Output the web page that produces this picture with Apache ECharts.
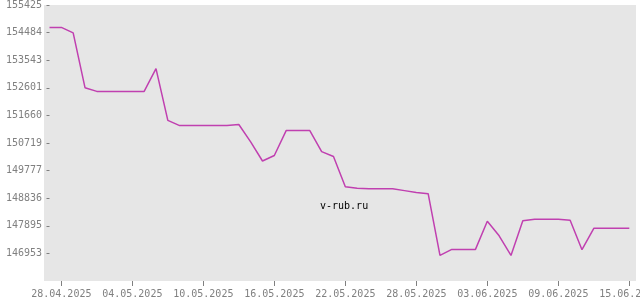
<!DOCTYPE html>
<html>
<head>
<meta charset="utf-8">
<script src="https://cdn.jsdelivr.net/npm/echarts@6/dist/echarts.min.js"></script>
<style>html,body{margin:0;padding:0;background:#fff}#c{width:640px;height:300px}</style>
</head>
<body>
<div id="c"></div>
<script>
// dates (day, month) for 2025
const dates = [
  '27.04','28.04','29.04','30.04','01.05','02.05','03.05','04.05','05.05','06.05',
  '07.05','08.05','09.05','10.05','11.05','12.05','13.05','14.05','15.05','16.05',
  '17.05','18.05','19.05','20.05','21.05','22.05','23.05','24.05','25.05','26.05',
  '27.05','28.05','29.05','30.05','31.05','01.06','02.06','03.06','04.06','05.06',
  '06.06','07.06','08.06','09.06','10.06','11.06','12.06','13.06','14.06','15.06'
];
const values = [
  154660,154660,154472,152605,152478,152478,152478,152478,152478,153256,
  151492,151313,151313,151313,151313,151313,151348,150755,150104,150293,
  151142,151142,151142,150423,150258,149224,149179,149155,149155,149155,
  149094,149032,148991,146884,147090,147090,147090,148049,147552,146884,
  148066,148118,148118,148118,148083,147080,147809,147809,147809,147809
];
const xTickDates = ['28.04','04.05','10.05','16.05','22.05','28.05','03.06','09.06','15.06'];
const xTickLabels = ['28.04.2025','04.05.2025','10.05.2025','16.05.2025','22.05.2025','28.05.2025','03.06.2025','09.06.2025','15.06.2025'];
const yTickLabels = ['146953','147895','148836','149777','150719','151660','152601','153543','154484','155425'];
const yMin = 146011.7, yMax = 155425, yInterval = 941.33;

const DAY = 86400000;
function ts(s){ const [d,m] = s.split('.').map(Number); return Date.UTC(2025, m-1, d); }
const t0 = ts(dates[0]);
function dayIndex(s){ return Math.round((ts(s)-t0)/DAY); }
const seriesData = dates.map((d,i)=>[dayIndex(d), values[i]]);
const xTicks = xTickDates.map(dayIndex);
const lastDay = dayIndex(dates[dates.length-1]);
const yTicks = yTickLabels.map((_,i)=>yMin + (i+1)*yInterval);

const font = 'DejaVu Sans Mono';
const chart = echarts.init(document.getElementById('c'), null, {renderer:'canvas'});
chart.setOption({
  animation:false,
  backgroundColor:'#ffffff',
  grid:{left:44,right:4,top:5,bottom:19,show:true,backgroundColor:'#e6e6e6',borderWidth:0,containLabel:false,outerBoundsMode:'none'},
  xAxis:{
    type:'value',
    min: -0.465,
    max: lastDay + 0.566,
    axisLine:{show:false},
    splitLine:{show:false},
    axisTick:{show:true,customValues:xTicks,length:5,lineStyle:{color:'#808080',width:1}},
    axisLabel:{
      customValues:xTicks,
      margin:8,
      color:'#808080',
      fontFamily:font,
      fontSize:10,
      hideOverlap:false,
      formatter:function(v){ const i = xTicks.indexOf(Math.round(v)); return i>=0 ? xTickLabels[i] : ''; }
    }
  },
  yAxis:{
    type:'value',
    min:yMin, max:yMax,
    axisLine:{show:false},
    splitLine:{show:false},
    axisTick:{show:true,customValues:yTicks,length:3,lineStyle:{color:'#808080',width:1}},
    axisLabel:{
      customValues:yTicks,
      margin:2,
      color:'#808080',
      fontFamily:font,
      fontSize:10,
      formatter:function(v){ const i = Math.round((v-yMin)/yInterval)-1; return i>=0 && i<yTickLabels.length ? yTickLabels[i] : ''; }
    }
  },
  graphic:[{
    type:'text', left:320, top:201,
    style:{text:'v-rub.ru', fill:'#000000', font:'10px "DejaVu Sans Mono"'}
  }],
  series:[{
    type:'line',
    data:seriesData,
    showSymbol:false,
    lineStyle:{color:'#c040b0',width:1.5},
    itemStyle:{color:'#c040b0'}
  }]
});
</script>
</body>
</html>
